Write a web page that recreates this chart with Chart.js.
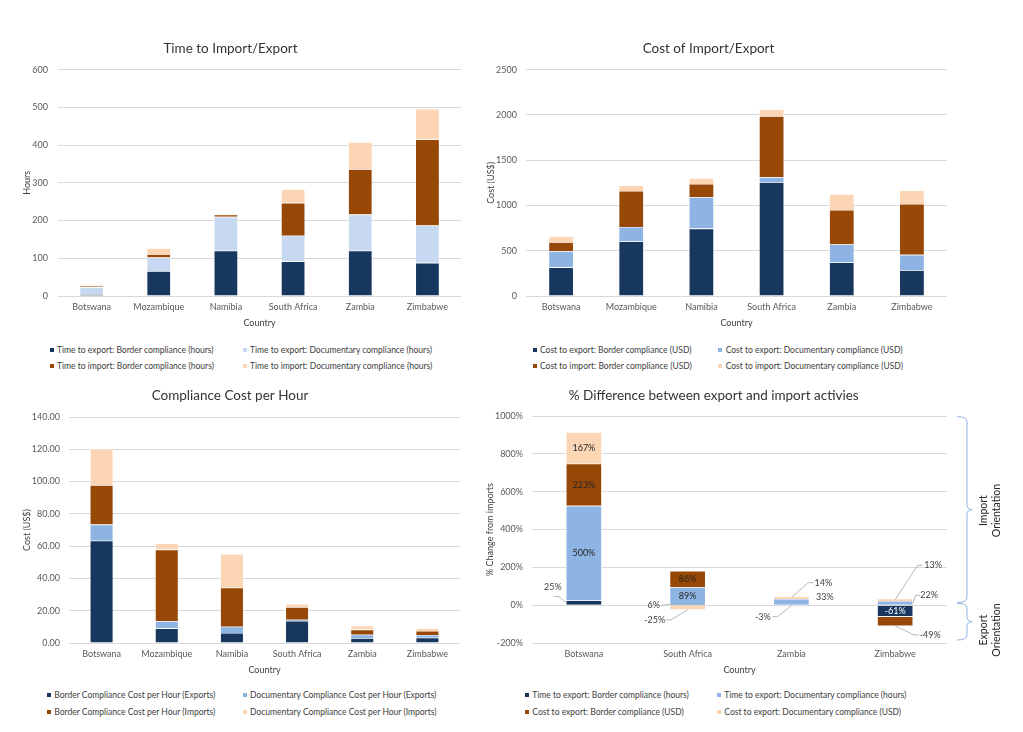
<!DOCTYPE html>
<html>
<head>
<meta charset="utf-8">
<script src="https://cdn.jsdelivr.net/npm/chart.js@4.4.1/dist/chart.umd.min.js"></script>
<style>
  body { margin: 0; background: #fff; width: 1023px; height: 732px; position: relative; overflow: hidden; font-family: Lato, "Open Sans", sans-serif; }
  canvas { position: absolute; }
  .lg { position: absolute; font-size: 8.5px; line-height: 10px; color: #404040; white-space: nowrap; }
  .mk { position: absolute; width: 4px; height: 4px; }
</style>
</head>
<body>
<canvas id="c1" width="480" height="306" style="left:0px;top:30px"></canvas>
<canvas id="c2" width="490" height="306" style="left:470px;top:30px"></canvas>
<canvas id="c3" width="478" height="308" style="left:0px;top:375px"></canvas>
<canvas id="c4" width="553" height="308" style="left:470px;top:375px"></canvas>
<script>
// data
var countries = ['Botswana', 'Mozambique', 'Namibia', 'South Africa', 'Zambia', 'Zimbabwe'];

var timeExpBorder = [5, 66, 120, 92, 120, 88];
var timeExpDoc = [18, 36, 90, 68, 96, 99];
var timeImpBorder = [4, 9, 6, 87, 120, 228];
var timeImpDoc = [3, 16, 3, 36, 72, 81];
var timeTicks = [0, 100, 200, 300, 400, 500, 600];

var costExpBorder = [317, 602, 745, 1257, 370, 285];
var costExpDoc = [179, 160, 348, 55, 200, 170];
var costImpBorder = [98, 399, 145, 676, 380, 562];
var costImpDoc = [67, 60, 63, 73, 175, 150];
var costTicks = [0, 500, 1000, 1500, 2000, 2500];

var hourExpBorder = [63.40, 9.12, 6.21, 13.66, 3.08, 3.24];
var hourExpDoc = [9.94, 4.44, 3.87, 0.81, 2.08, 1.72];
var hourImpBorder = [24.50, 44.33, 24.17, 7.77, 3.17, 2.46];
var hourImpDoc = [22.33, 3.75, 21.00, 2.03, 2.43, 1.85];
var hourTicks = [0, 20, 40, 60, 80, 100, 120, 140];

var diffCountries = ['Botswana', 'South Africa', 'Zambia', 'Zimbabwe'];
var diffTimeBorder = [25, 6, 0, -61];
var diffTimeDoc = [500, 89, 33, 22];
var diffCostBorder = [223, 86, -3, -49];
var diffCostDoc = [167, -25, 14, 13];
var diffTicks = [-200, 0, 200, 400, 600, 800, 1000];

var timeNames = ['Time to export: Border compliance (hours)', 'Time to export: Documentary compliance (hours)',
                 'Time to import: Border compliance (hours)', 'Time to import: Documentary compliance (hours)'];
var costNames = ['Cost to export: Border compliance (USD)', 'Cost to export: Documentary compliance (USD)',
                 'Cost to import: Border compliance (USD)', 'Cost to import: Documentary compliance (USD)'];
var hourNames = ['Border Compliance Cost per Hour (Exports)', 'Documentary Compliance Cost per Hour (Exports)',
                 'Border Compliance Cost per Hour (Imports)', 'Documentary Compliance Cost per Hour (Imports)'];
var diffNames = ['Time to export: Border compliance (hours)', 'Time to export: Documentary compliance (hours)',
                 'Cost to export: Border compliance (USD)', 'Cost to export: Documentary compliance (USD)'];

var FONT = 'Lato, "Open Sans", sans-serif';
var navy = '#17375e', paleBlue = '#c6d9f1', midBlue = '#8eb4e3', brown = '#974706', peach = '#fcd5b5';

function stacked(id, o) {
  var scales = {
    x: {
      stacked: true,
      grid: { display: false, drawTicks: false }, border: { display: false },
      ticks: { color: '#595959', font: { family: FONT, size: 9 }, padding: 6, maxRotation: 0, autoSkip: false },
      title: { display: true, text: 'Country', color: '#404040', font: { family: FONT, size: 9 }, padding: 8 },
      afterFit: function (s) { s.height = 40; }
    },
    y: {
      stacked: true,
      min: o.ticks[0], max: o.ticks[o.ticks.length - 1],
      ticks: { stepSize: o.ticks[1] - o.ticks[0], color: '#595959', font: { family: FONT, size: 9 }, padding: o.tickPad, callback: o.fmt },
      grid: { color: '#d9d9d9', drawTicks: false },
      border: { display: false },
      title: { display: true, text: o.yTitle, color: '#404040', font: { family: FONT, size: 9 }, padding: o.yTitlePad },
      afterFit: function (s) { s.width = o.yW; }
    }
  };
  if (o.extraRight) {
    scales.y2 = {
      position: 'right', display: true,
      ticks: { display: false }, grid: { display: false }, border: { display: false },
      afterFit: function (s) { s.width = o.extraRight; }
    };
  }
  return new Chart(document.getElementById(id), {
    type: 'bar',
    data: {
      labels: o.labels,
      datasets: o.series.map(function (s, k) {
        return { label: o.names[k], data: s, backgroundColor: o.colors[k], borderColor: '#ffffff', borderWidth: 0.6,
                 categoryPercentage: 1, barPercentage: o.bar };
      })
    },
    options: {
      responsive: false, animation: false, events: [],
      layout: { padding: { left: 0, top: 0, bottom: 0, right: o.padR } },
      plugins: {
        legend: { display: false }, tooltip: { enabled: false },
        title: { display: true, text: o.title, color: '#333333', font: { family: FONT, size: 13.5, weight: 'normal' },
                 padding: { top: o.tTop, bottom: o.tBot } }
      },
      scales: scales
    },
    plugins: o.plugins || []
  });
}

function legend(names, colors, x1, x2, y1, y2) {
  var xs = [x1, x2, x1, x2], ys = [y1, y1, y2, y2];
  names.forEach(function (n, k) {
    var m = document.createElement('span');
    m.className = 'mk';
    m.style.left = (xs[k] - 7.5) + 'px';
    m.style.top = (ys[k] - 2) + 'px';
    m.style.background = colors[k];
    document.body.appendChild(m);
    var t = document.createElement('div');
    t.className = 'lg';
    t.style.left = xs[k] + 'px';
    t.style.top = (ys[k] - 5) + 'px';
    t.textContent = n;
    document.body.appendChild(t);
  });
}

// labels on the % difference chart
var insideLabels = [[3, 0], [2, 0], [1, 0], [2, 1], [1, 1], [0, 3, '#ffffff']];
// dataset, index, anchor x frac, anchor y frac, label dx, label dy, line end dx, line end dy
var callouts = [
  [0, 0, 0, 0.5, -13, -15, 1, 9],
  [0, 1, 0, 0.5, -16, 1, 8.5, 0],
  [3, 1, 0.5, 1, -33, 10, 11, 0],
  [3, 2, 0.5, 0.5, 32, -15, -10, 0],
  [1, 2, 0.5, 0.5, 33.5, -5, null, null],
  [2, 2, 0.5, 0.5, -28.5, 11, 9.5, 0],
  [3, 3, 0.5, 0.5, 38, -34.5, -10.5, 0],
  [1, 3, 1, 0.5, 16, -7.5, -8.5, 0],
  [2, 3, 0.5, 1, 35, 9, -11, 0]
];

var diffLabels = {
  id: 'diffLabels',
  afterDatasetsDraw: function (chart) {
    var ctx = chart.ctx;
    ctx.save();
    ctx.font = '9px ' + FONT;
    ctx.textAlign = 'center';
    ctx.textBaseline = 'middle';
    insideLabels.forEach(function (l) {
      var bar = chart.getDatasetMeta(l[0]).data[l[1]];
      ctx.fillStyle = l[2] || '#262626';
      ctx.fillText(chart.data.datasets[l[0]].data[l[1]] + '%', bar.x, (bar.y + bar.base) / 2);
    });
    callouts.forEach(function (c) {
      var bar = chart.getDatasetMeta(c[0]).data[c[1]];
      var top = Math.min(bar.y, bar.base), bot = Math.max(bar.y, bar.base);
      var ax = bar.x - bar.width / 2 + c[2] * bar.width;
      var ay = top + c[3] * (bot - top);
      var lx = ax + c[4], ly = ay + c[5];
      if (c[6] !== null) {
        var ex = lx + c[6], ey = ly + c[7];
        var dir = ax > ex ? 1 : -1;
        ctx.strokeStyle = '#a6a6a6';
        ctx.lineWidth = 0.8;
        ctx.beginPath();
        ctx.moveTo(ax, ay);
        if (Math.abs(ay - ey) > 4) {
          ctx.lineTo(ex + dir * 5, ey);
        }
        ctx.lineTo(ex, ey);
        ctx.stroke();
      }
      ctx.fillStyle = '#404040';
      ctx.fillText(chart.data.datasets[c[0]].data[c[1]] + '%', lx, ly);
    });
    ctx.restore();
  }
};

function brace(ctx, x0, xs, xt, y0, y1) {
  var ym = (y0 + y1) / 2, r = Math.min(5, (y1 - y0) / 4);
  ctx.beginPath();
  ctx.moveTo(x0, y0);
  ctx.quadraticCurveTo(xs, y0, xs, y0 + r);
  ctx.lineTo(xs, ym - r);
  ctx.quadraticCurveTo(xs, ym, xt, ym);
  ctx.quadraticCurveTo(xs, ym, xs, ym + r);
  ctx.lineTo(xs, y1 - r);
  ctx.quadraticCurveTo(xs, y1, x0, y1);
  ctx.stroke();
}

var orientation = {
  id: 'orientation',
  afterDraw: function (chart) {
    var ctx = chart.ctx, y = chart.scales.y, right = chart.chartArea.right;
    var yTop = y.getPixelForValue(diffTicks[diffTicks.length - 1]);
    var yZero = y.getPixelForValue(0);
    var yBot = y.getPixelForValue(diffTicks[0]);
    ctx.save();
    ctx.strokeStyle = '#8fb3e0';
    ctx.lineWidth = 1;
    brace(ctx, right + 10, right + 20, right + 25, yTop + 0.7, yZero - 2.7);
    brace(ctx, right + 10, right + 20, right + 25, yZero - 2, yBot - 3);
    ctx.fillStyle = '#262626';
    ctx.font = '10.5px ' + FONT;
    ctx.textAlign = 'center';
    ctx.textBaseline = 'middle';
    [['Import', 'Orientation', (yTop + yZero) / 2], ['Export', 'Orientation', (yZero + yBot) / 2 + 6]].forEach(function (t) {
      ctx.save();
      ctx.translate(right + 37, t[2]);
      ctx.rotate(-Math.PI / 2);
      ctx.fillText(t[0], 0, 0);
      ctx.restore();
      ctx.save();
      ctx.translate(right + 50, t[2]);
      ctx.rotate(-Math.PI / 2);
      ctx.fillText(t[1], 0, 0);
      ctx.restore();
    });
    ctx.restore();
  }
};

stacked('c1', {
  labels: countries, title: 'Time to Import/Export', yTitle: 'Hours',
  series: [timeExpBorder, timeExpDoc, timeImpBorder, timeImpDoc], names: timeNames,
  colors: [navy, paleBlue, brown, peach], ticks: timeTicks, bar: 0.357,
  padR: 19, yW: 58, tickPad: 10, yTitlePad: 21.6, tTop: 10.9, tBot: 12.6
});
legend(timeNames, [navy, paleBlue, brown, peach], 57, 250, 349.7, 366.3);

stacked('c2', {
  labels: countries, title: 'Cost of Import/Export', yTitle: 'Cost (US$)',
  series: [costExpBorder, costExpDoc, costImpBorder, costImpDoc], names: costNames,
  colors: [navy, midBlue, brown, peach], ticks: costTicks, bar: 0.356,
  padR: 13, yW: 56, tickPad: 9, yTitlePad: 15.4, tTop: 10.9, tBot: 12.6
});
legend(costNames, [navy, midBlue, brown, peach], 540, 725.7, 349.7, 366.3);

stacked('c3', {
  labels: countries, title: 'Compliance Cost per Hour', yTitle: 'Cost (US$)',
  series: [hourExpBorder, hourExpDoc, hourImpBorder, hourImpDoc], names: hourNames,
  colors: [navy, midBlue, brown, peach], ticks: hourTicks, bar: 0.357,
  fmt: function (v) { return v.toFixed(2); },
  padR: 18, yW: 69, tickPad: 9, yTitlePad: 21.6, tTop: 12.9, tBot: 12.9
});
legend(hourNames, [navy, midBlue, brown, peach], 54.3, 250, 695.3, 712);

stacked('c4', {
  labels: diffCountries, title: '% Difference between export and import activies', yTitle: '% Change from imports',
  series: [diffTimeBorder, diffTimeDoc, diffCostBorder, diffCostDoc], names: diffNames,
  colors: [navy, midBlue, brown, peach], ticks: diffTicks, bar: 0.346,
  fmt: function (v) { return v + '%'; },
  padR: 65.6, extraRight: 10.4, yW: 62, tickPad: 9, yTitlePad: 15, tTop: 12.9, tBot: 11.9,
  plugins: [diffLabels, orientation]
});
legend(diffNames, [navy, midBlue, brown, peach], 532.3, 724.3, 695.3, 712);
</script>
</body>
</html>
